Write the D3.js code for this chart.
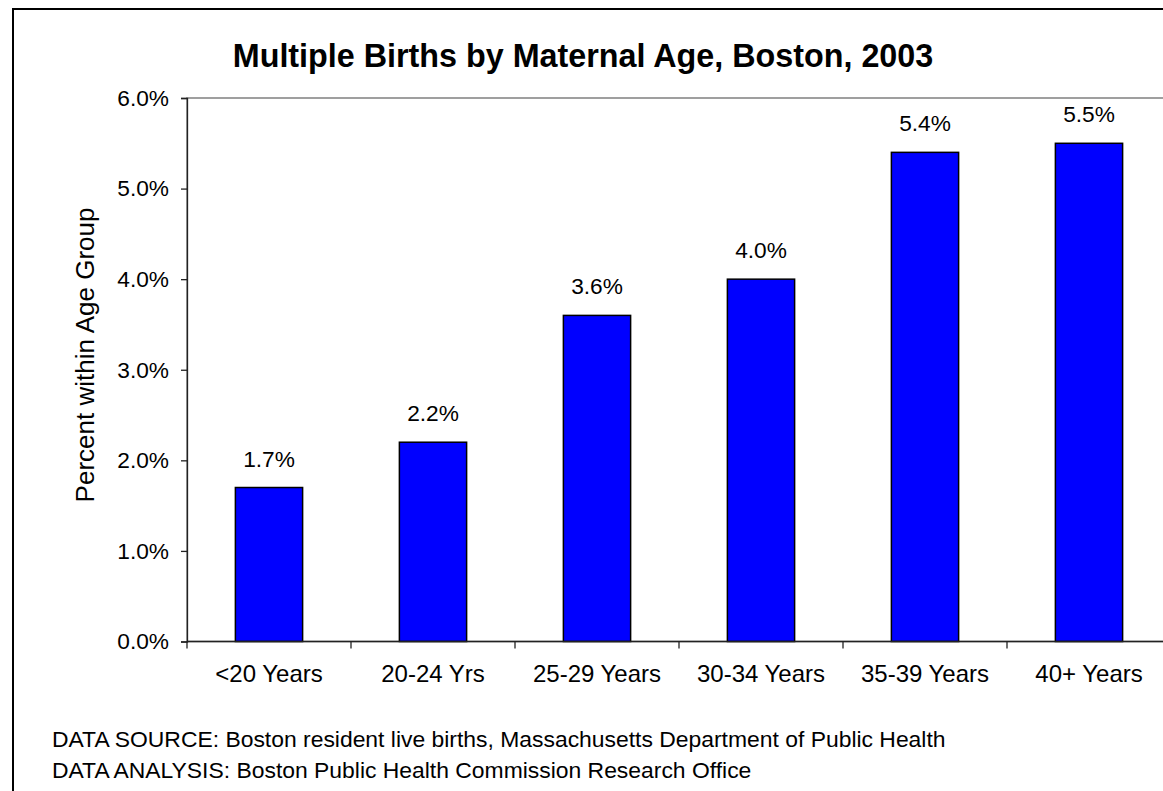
<!DOCTYPE html>
<html>
<head>
<meta charset="utf-8">
<script src="https://cdn.jsdelivr.net/npm/d3@7"></script>
<style>
  html, body { margin: 0; padding: 0; background: #fff; }
  svg { display: block; }
  text { font-family: "Liberation Sans", Arial, sans-serif; fill: #000; }
</style>
</head>
<body>
<svg id="chart" width="1163" height="791"></svg>
<script>
// Multiple births as a percent of all births, by maternal age group
const categories = ["<20 Years", "20-24 Yrs", "25-29 Years", "30-34 Years", "35-39 Years", "40+ Years"];
const values = [1.7, 2.2, 3.6, 4.0, 5.4, 5.5];
const yTicks = [0, 1, 2, 3, 4, 5, 6];
const titleText = "Multiple Births by Maternal Age, Boston, 2003";
const yAxisTitle = "Percent within Age Group";
const footnotes = [
  "DATA SOURCE: Boston resident live births, Massachusetts Department of Public Health",
  "DATA ANALYSIS: Boston Public Health Commission Research Office"
];

const svg = d3.select("#chart");
const W = 1163, H = 791;

// Outer frame (runs past the right and bottom edges)
svg.append("rect")
  .attr("x", 13).attr("y", 9)
  .attr("width", W + 20).attr("height", H + 20)
  .attr("fill", "#fff").attr("stroke", "#000").attr("stroke-width", 2);

const plot = { left: 187, right: 1171, top: 98, bottom: 641.5 };

const x = d3.scaleBand()
  .domain(categories)
  .range([plot.left, plot.right])
  .paddingInner(0.59)
  .paddingOuter(0.295);

const y = d3.scaleLinear()
  .domain([0, 6])
  .range([plot.bottom, plot.top]);

// Plot area border (top edge visible in gray)
svg.append("rect")
  .attr("x", plot.left).attr("y", plot.top)
  .attr("width", plot.right - plot.left).attr("height", plot.bottom - plot.top)
  .attr("fill", "none").attr("stroke", "#808080").attr("stroke-width", 1.5);

// Bars
svg.append("g").selectAll("rect")
  .data(values)
  .join("rect")
  .attr("x", (d, i) => x(categories[i]))
  .attr("y", d => y(d))
  .attr("width", x.bandwidth())
  .attr("height", d => y(0) - y(d))
  .attr("fill", "#0000ff")
  .attr("stroke", "#000")
  .attr("stroke-width", 1.5);

// Value labels
svg.append("g").selectAll("text")
  .data(values)
  .join("text")
  .attr("x", (d, i) => x(categories[i]) + x.bandwidth() / 2)
  .attr("y", d => y(d) - 21)
  .attr("text-anchor", "middle")
  .attr("font-size", 22.7)
  .text(d => d.toFixed(1) + "%");

// Y axis
const yAxis = d3.axisLeft(y)
  .tickValues(yTicks)
  .tickSize(6)
  .tickPadding(12)
  .tickFormat(d => d.toFixed(1) + "%");
const gy = svg.append("g")
  .attr("transform", `translate(${plot.left},0)`)
  .call(yAxis);
gy.select(".domain").attr("stroke", "#222").attr("stroke-width", 1.3);
gy.selectAll(".tick line").attr("stroke", "#222").attr("stroke-width", 1.3);
gy.selectAll(".tick text")
  .attr("font-size", 22.7)
  .attr("font-family", "Liberation Sans, Arial, sans-serif")
  .attr("fill", "#000");

// X axis: ticks between categories
const edges = categories.map(c => x(c) - x.step() * x.paddingInner() / 2);
edges.push(plot.right);
const gx = svg.append("g");
gx.append("line")
  .attr("x1", plot.left).attr("x2", plot.right)
  .attr("y1", plot.bottom).attr("y2", plot.bottom)
  .attr("stroke", "#222").attr("stroke-width", 1.3);
gx.selectAll("line.tick")
  .data(edges)
  .join("line")
  .attr("class", "tick")
  .attr("x1", d => d).attr("x2", d => d)
  .attr("y1", plot.bottom).attr("y2", plot.bottom + 7)
  .attr("stroke", "#222").attr("stroke-width", 1.3);
gx.selectAll("text")
  .data(categories)
  .join("text")
  .attr("x", d => x(d) + x.bandwidth() / 2)
  .attr("y", 682)
  .attr("text-anchor", "middle")
  .attr("font-size", 24)
  .text(d => d);

// Title
svg.append("text")
  .attr("x", 583).attr("y", 67)
  .attr("text-anchor", "middle")
  .attr("font-size", 32.3)
  .attr("font-weight", "bold")
  .text(titleText);

// Y axis title
svg.append("text")
  .attr("transform", `translate(94,355) rotate(-90)`)
  .attr("text-anchor", "middle")
  .attr("font-size", 26)
  .text(yAxisTitle);

// Footnotes
svg.append("g").selectAll("text")
  .data(footnotes)
  .join("text")
  .attr("x", 52)
  .attr("y", (d, i) => 746.5 + i * 31.5)
  .attr("font-size", 22.9)
  .text(d => d);
</script>
</body>
</html>
